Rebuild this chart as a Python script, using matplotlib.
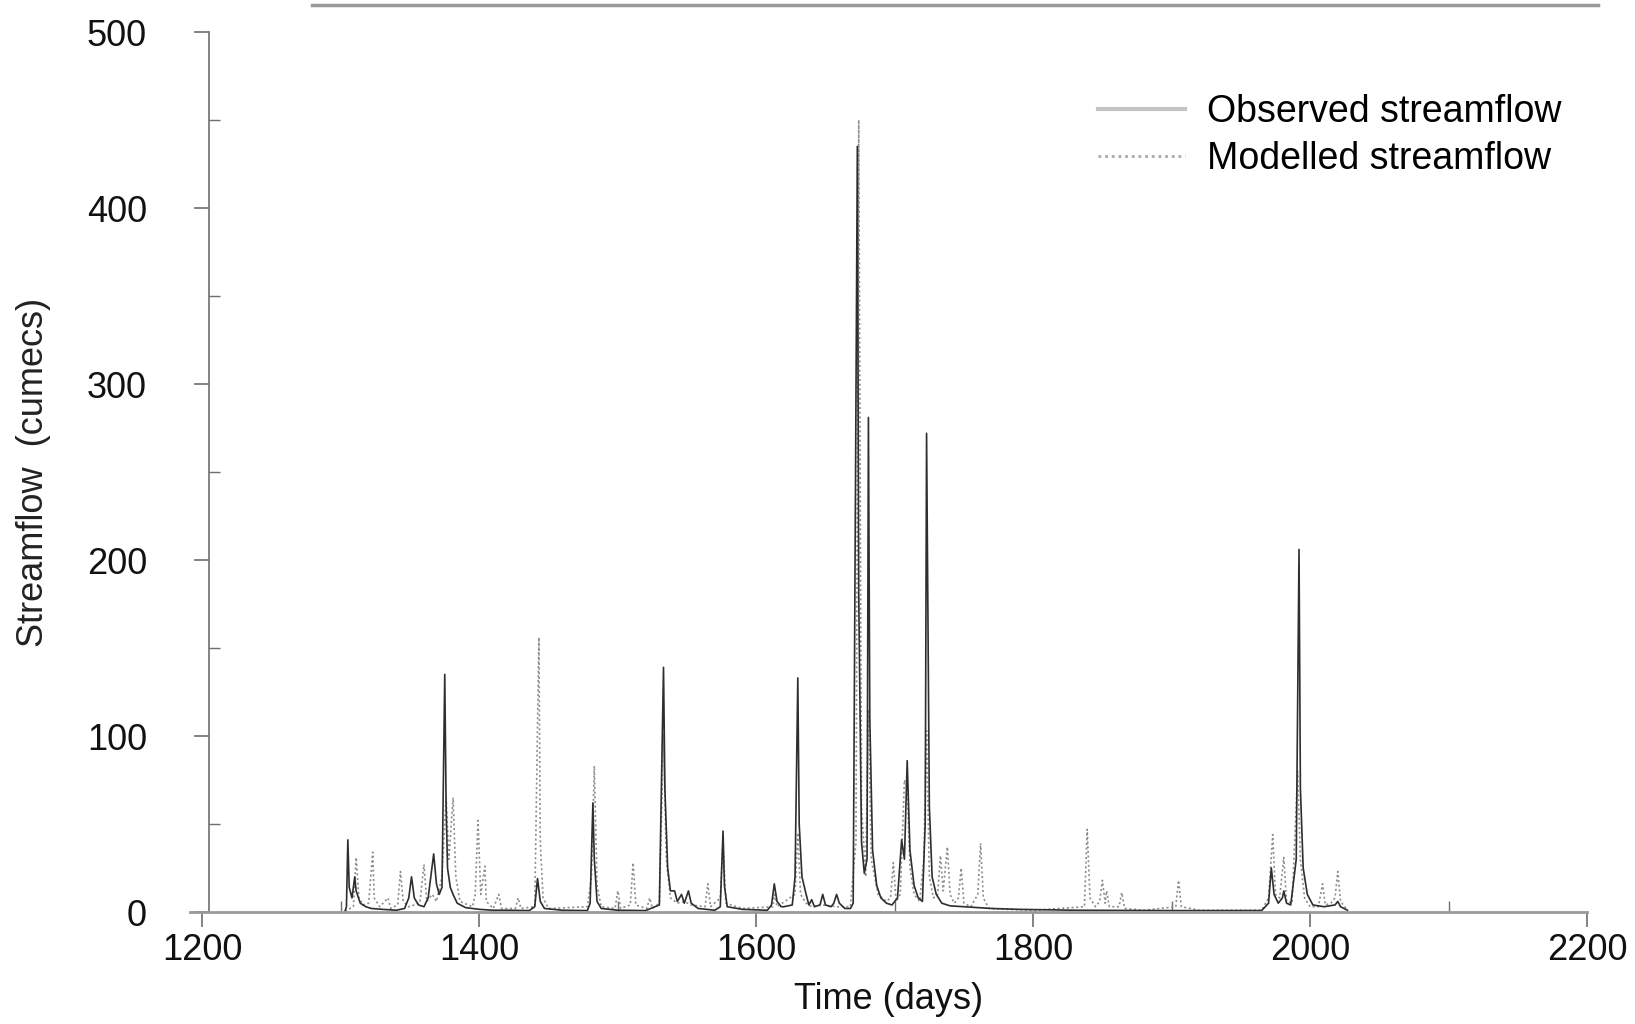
"""Observed vs modelled daily streamflow hydrograph."""

import matplotlib

matplotlib.use("Agg")

import matplotlib.pyplot as plt
from matplotlib.lines import Line2D
from matplotlib.ticker import MultipleLocator

FONT = ["Liberation Sans", "DejaVu Sans"]
OBS_COLOR = "#2e2e2e"
MOD_COLOR = "#8c8c8c"
AXIS_COLOR = "#6e6e6e"

# observed hydrograph vertices (day, cumecs)
obs_day = [
    1303, 1304, 1305, 1306, 1308, 1310, 1311, 1314, 1318, 1322, 1330, 1340,
    1346, 1349, 1351, 1353, 1356, 1360, 1363, 1367, 1369, 1371, 1373, 1375,
    1376, 1377, 1379, 1381, 1384, 1390, 1400, 1410, 1420, 1436, 1440, 1442,
    1444, 1447, 1460, 1478, 1480, 1482, 1483, 1485, 1488, 1500, 1520, 1530,
    1533, 1534, 1536, 1538, 1541, 1543, 1546, 1548, 1551, 1553, 1558, 1570,
    1574, 1576, 1577, 1579, 1590, 1608, 1611, 1613, 1615, 1618, 1620, 1626,
    1628, 1630, 1631, 1633, 1636, 1638, 1640, 1642, 1646, 1648, 1650, 1654,
    1656, 1658, 1660, 1664, 1668, 1670, 1673, 1674, 1676, 1678, 1680, 1681,
    1682, 1684, 1687, 1690, 1694, 1698, 1702, 1705, 1707, 1709, 1711, 1714,
    1717, 1720, 1722, 1723, 1725, 1727, 1730, 1734, 1740, 1750, 1760, 1770,
    1790, 1830, 1900, 1965, 1970, 1972, 1974, 1977, 1980, 1981, 1983, 1986,
    1990, 1992, 1993, 1995, 1998, 2002, 2010, 2018, 2020, 2022, 2027,
]
obs_flow = [
    0.5, 3, 41, 14, 8, 20, 12, 5, 3, 2, 1.5, 1,
    2, 8, 20, 8, 4, 3, 8, 33, 16, 10, 14, 135,
    60, 25, 14, 10, 5, 2.5, 1.5, 1, 1, 0.8, 3, 19,
    6, 2, 1, 0.8, 5, 62, 30, 6, 2, 1, 0.8, 4,
    139, 70, 25, 12, 12, 6, 10, 5, 12, 5, 2, 1,
    3, 46, 15, 3, 1.5, 1, 4, 16, 6, 3, 3, 4,
    20, 133, 50, 20, 10, 4, 7, 3, 4, 10, 4, 3,
    5, 10, 5, 2, 2, 5, 435, 180, 40, 22, 30, 281,
    110, 35, 15, 8, 5, 4, 8, 41, 30, 86, 35, 15,
    8, 6, 50, 272, 60, 20, 10, 5, 3.5, 3, 2.5, 2,
    1.5, 1, 0.8, 0.8, 5, 25, 10, 5, 8, 12, 5, 4,
    30, 206, 70, 25, 10, 4, 3, 4, 6, 3, 1,
]

# modelled hydrograph vertices (day, cumecs)
mod_day = [
    1303, 1309, 1311, 1313, 1316, 1320, 1323, 1324, 1328, 1334, 1336, 1341,
    1343, 1345, 1349, 1357, 1360, 1362, 1366, 1369, 1373, 1376, 1378, 1381,
    1383, 1386, 1395, 1397, 1399, 1401, 1404, 1405, 1410, 1414, 1416, 1426,
    1428, 1430, 1440, 1443, 1444, 1446, 1450, 1478, 1481, 1483, 1485, 1488,
    1498, 1500, 1502, 1509, 1511, 1513, 1521, 1523, 1525, 1530, 1533, 1535,
    1538, 1543, 1548, 1553, 1563, 1565, 1567, 1574, 1576, 1578, 1590, 1612,
    1613, 1615, 1628, 1630, 1632, 1636, 1640, 1648, 1658, 1668, 1672, 1674,
    1676, 1679, 1681, 1683, 1688, 1694, 1697, 1699, 1701, 1704, 1707, 1709,
    1711, 1714, 1718, 1721, 1723, 1725, 1728, 1731, 1733, 1735, 1738, 1740,
    1743, 1746, 1748, 1750, 1755, 1760, 1762, 1764, 1768, 1780, 1800, 1837,
    1839, 1841, 1845, 1848, 1850, 1852, 1853, 1855, 1862, 1864, 1866, 1880,
    1903, 1905, 1907, 1920, 1965, 1970, 1973, 1975, 1978, 1981, 1983, 1987,
    1991, 1993, 1996, 2000, 2006, 2009, 2011, 2015, 2018, 2020, 2022, 2025,
    2027,
]
mod_flow = [
    0.5, 3, 31, 8, 4, 5, 34, 8, 3, 8, 2, 4,
    23, 6, 3, 5, 27, 6, 10, 6, 20, 65, 30, 65,
    20, 6, 3, 10, 52, 10, 26, 6, 2, 10, 2, 2,
    8, 2, 3, 156, 40, 8, 2, 3, 20, 83, 15, 3,
    2, 12, 2, 4, 28, 4, 2, 8, 2, 5, 101, 30,
    8, 5, 6, 4, 3, 16, 3, 8, 40, 5, 2, 3,
    10, 3, 10, 45, 10, 5, 3, 4, 3, 3, 40, 450,
    60, 20, 115, 30, 10, 6, 8, 28, 6, 10, 75, 70,
    25, 10, 6, 30, 103, 20, 8, 10, 32, 12, 37, 10,
    5, 8, 25, 5, 3, 10, 39, 8, 2, 1.5, 1, 3,
    47, 8, 3, 6, 18, 5, 12, 3, 3, 11, 2, 1,
    3, 18, 3, 1, 1, 8, 44, 10, 8, 31, 6, 5,
    80, 30, 8, 3, 3, 16, 4, 5, 8, 23, 6, 3,
    1,
]

x_ticks = [1200, 1400, 1600, 1800, 2000, 2200]
y_ticks = [0, 100, 200, 300, 400, 500]


def build_hydrograph() -> None:
    plt.rcParams["font.family"] = FONT
    fig = plt.figure(figsize=(16.35, 10.24), dpi=100, facecolor="white")
    ax = fig.add_axes([190 / 1635, 1 - 912 / 1024, 1397 / 1635, 880 / 1024])

    ax.plot(mod_day, mod_flow, color=MOD_COLOR, linewidth=1.2,
            linestyle=(0, (1.2, 1.6)))
    ax.plot(obs_day, obs_flow, color=OBS_COLOR, linewidth=1.2)

    ax.set_xlim(1191, 2200)
    ax.set_ylim(0, 500)
    ax.set_xticks(x_ticks)
    ax.set_yticks(y_ticks)
    ax.xaxis.set_minor_locator(MultipleLocator(100))
    ax.yaxis.set_minor_locator(MultipleLocator(50))

    for side in ("top", "right"):
        ax.spines[side].set_visible(False)
    ax.spines["left"].set_position(("data", 1205))
    ax.spines["left"].set_color(AXIS_COLOR)
    ax.spines["bottom"].set_color("#9a9a9a")
    ax.spines["bottom"].set_linewidth(2.0)
    ax.spines["left"].set_linewidth(1.2)

    ax.tick_params(axis="both", which="major", labelsize=26, colors=AXIS_COLOR,
                   labelcolor="#111111", length=11, width=1.2)
    ax.tick_params(axis="y", which="major", pad=34)
    ax.tick_params(axis="x", which="major", pad=4)
    ax.tick_params(axis="both", which="minor", direction="in", length=8,
                   width=1.0, colors=AXIS_COLOR)

    ax.set_xlabel("Time (days)", fontsize=26, color="#111111", labelpad=10)
    ax.set_ylabel("Streamflow  (cumecs)", fontsize=26, color="#222222",
                  labelpad=26)

    handles = [
        Line2D([], [], color="#c4c4c4", linewidth=3),
        Line2D([], [], color="#a8a8a8", linewidth=2, linestyle=(0, (1, 1.4))),
    ]
    ax.legend(handles, ["Observed streamflow", "Modelled streamflow"],
              loc="upper right", bbox_to_anchor=(1.006, 0.968), frameon=False,
              fontsize=27, handlelength=2.3, handletextpad=0.6,
              labelspacing=0.3)

    # edge of the panel above, cut off at the top of the page
    fig.add_artist(Line2D([312 / 1635, 1598 / 1635], [0.995, 0.995],
                          color="#9a9a9a", linewidth=2.5))

    fig.savefig("out.png", dpi=100, facecolor="white")
    plt.close(fig)


def main() -> None:
    build_hydrograph()


if __name__ == "__main__":
    main()
